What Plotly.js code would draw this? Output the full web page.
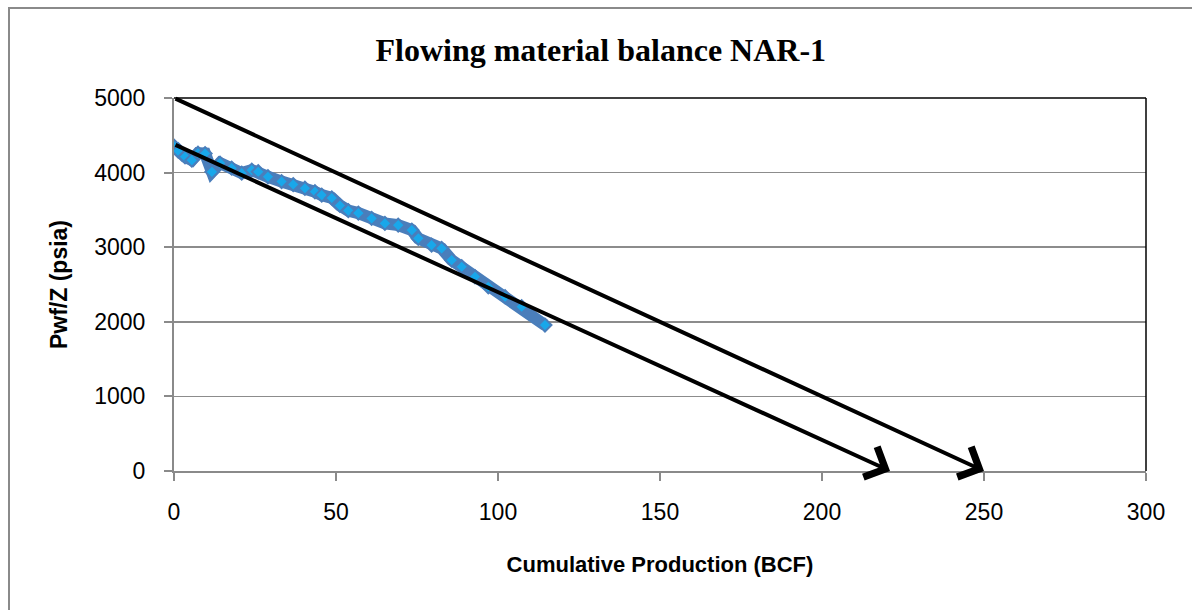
<!DOCTYPE html>
<html>
<head>
<meta charset="utf-8">
<script src="https://cdn.plot.ly/plotly-3.0.1.min.js"></script>
<style>
html,body{margin:0;padding:0;background:#fff;overflow:hidden;}
#chart{position:absolute;left:0;top:0;width:1192px;height:610px;}
#frame{position:absolute;left:8px;top:7px;width:1400px;height:800px;border:2px solid #8a8a8a;pointer-events:none;}
</style>
</head>
<body>
<div id="chart"></div>
<div id="frame"></div>
<script>
// Cumulative production (BCF) and Pwf/Z (psia)
var cumProd = [0, 1.3, 3.4, 5.5, 7.4, 9.6, 11.7, 14.2, 17.8, 20.9, 24, 26, 29, 33.2, 36.8, 40.4, 43.5, 45.6, 48.7, 51.2, 53.8, 56.9, 61, 65.1, 69.2, 73.4, 75.4, 79.5, 82.6, 85.7, 88.8, 92.9, 97, 102.2, 107.3, 114.5];
var pwfZ    = [4355, 4290, 4212, 4167, 4260, 4255, 4010, 4127, 4060, 3993, 4033, 4011, 3944, 3880, 3840, 3790, 3743, 3698, 3660, 3560, 3490, 3457, 3386, 3319, 3296, 3229, 3118, 3028, 2984, 2827, 2738, 2604, 2470, 2336, 2202, 1956];

// Straight-line extrapolations (arrows)
var lineA_x = [0, 250];
var lineA_y = [5000, 0];
var lineB_x = [0, 221];
var lineB_y = [4380, 0];

var xTicks = [0, 50, 100, 150, 200, 250, 300];
var yTicks = [0, 1000, 2000, 3000, 4000, 5000];

var titleText = 'Flowing material balance NAR-1';
var xTitle = 'Cumulative Production (BCF)';
var yTitle = 'Pwf/Z (psia)';

var trace = {
  x: cumProd, y: pwfZ, type: 'scatter', mode: 'lines+markers',
  line: {color: '#4A7EBB', width: 12},
  marker: {symbol: 'diamond', size: 10, color: '#19A7EA', line: {color: '#4A7EBB', width: 2}},
  showlegend: false, hoverinfo: 'x+y'
};

function arrow(xs, ys) {
  return {
    x: xs[1], y: ys[1], ax: xs[0], ay: ys[0],
    xref: 'x', yref: 'y', axref: 'x', ayref: 'y',
    text: '', showarrow: true, arrowhead: 4, arrowsize: 1.6,
    arrowwidth: 4, arrowcolor: '#000000', standoff: 0
  };
}

var layout = {
  width: 1192, height: 610,
  margin: {l: 174, r: 46, t: 98, b: 139},
  paper_bgcolor: '#ffffff', plot_bgcolor: '#ffffff',
  font: {family: 'Liberation Sans, Arial, sans-serif', color: '#000000'},
  title: {
    text: '<b>' + titleText + '</b>',
    font: {family: 'Liberation Serif, Times New Roman, serif', size: 32, color: '#000000'},
    x: 0.504, xref: 'container', xanchor: 'center', y: 0.918, yanchor: 'middle'
  },
  xaxis: {
    range: [0, 300], tickvals: xTicks, ticktext: xTicks.map(String),
    showgrid: false, zeroline: false,
    showline: true, linecolor: '#8a8a8a', linewidth: 2,
    ticks: 'outside', ticklen: 8, tickcolor: '#8a8a8a', tickwidth: 2,
    tickfont: {size: 23, color: '#000000'}, ticklabelstandoff: 11,
    title: {text: '<b>' + xTitle + '</b>', font: {size: 22, color: '#000000'}, standoff: 33}
  },
  yaxis: {
    range: [0, 5000], tickvals: yTicks, ticktext: yTicks.map(String),
    showgrid: true, gridcolor: '#8c8c8c', gridwidth: 1.5, zeroline: false,
    showline: true, linecolor: '#8a8a8a', linewidth: 2,
    ticks: 'outside', ticklen: 8, tickcolor: '#8a8a8a', tickwidth: 2,
    tickfont: {size: 23, color: '#000000'}, ticklabelstandoff: 14,
    title: {text: '<b>' + yTitle + '</b>', font: {size: 23, color: '#000000'}, standoff: 20}
  },
  shapes: [
    {type: 'line', xref: 'paper', yref: 'paper', x0: 0, x1: 1, y0: 1, y1: 1, line: {color: '#000000', width: 1.5}, layer: 'above'},
    {type: 'line', xref: 'paper', yref: 'paper', x0: 1, x1: 1, y0: 0, y1: 1, line: {color: '#000000', width: 1.5}, layer: 'above'}
  ],
  annotations: [arrow(lineA_x, lineA_y), arrow(lineB_x, lineB_y)]
};

Plotly.newPlot('chart', [trace], layout, {staticPlot: true});
</script>
</body>
</html>
